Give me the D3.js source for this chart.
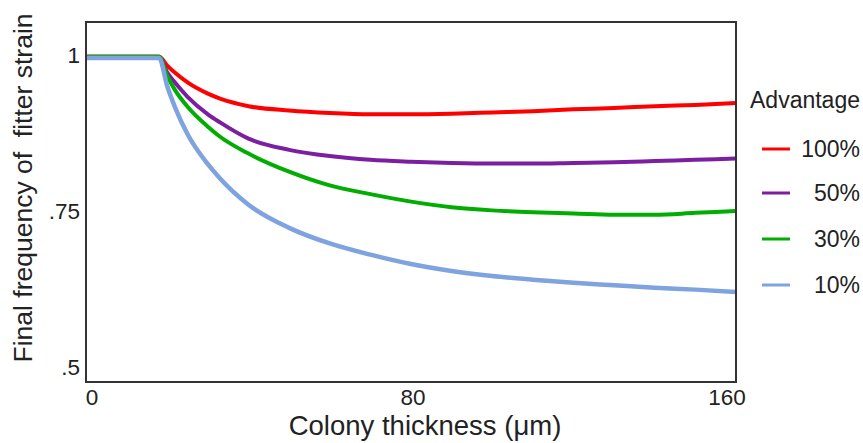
<!DOCTYPE html>
<html>
<head>
<meta charset="utf-8">
<script src="https://cdn.jsdelivr.net/npm/d3@7"></script>
<style>
  html, body { margin: 0; padding: 0; background: #fff; }
  text { font-family: "Liberation Sans", Arial, sans-serif; fill: #222; }
</style>
</head>
<body>
<svg id="chart" width="863" height="443"></svg>
<script>
// Colony thickness (µm) sample points
const thickness = [0, 18, 20, 22, 25, 30, 33, 40, 50, 60, 70, 80, 90, 100, 110, 120, 130, 140, 150, 160];

// Final frequency of the fitter strain for each advantage level
const adv100 = [0.997, 0.997, 0.983, 0.971, 0.956, 0.938, 0.930, 0.918, 0.911, 0.907, 0.905, 0.905, 0.906, 0.908, 0.910, 0.913, 0.915, 0.918, 0.920, 0.923];
const adv50  = [0.997, 0.997, 0.972, 0.955, 0.933, 0.905, 0.892, 0.866, 0.848, 0.838, 0.832, 0.829, 0.827, 0.826, 0.826, 0.827, 0.828, 0.830, 0.832, 0.834];
const adv30  = [0.997, 0.997, 0.966, 0.943, 0.917, 0.885, 0.869, 0.842, 0.813, 0.791, 0.777, 0.765, 0.756, 0.751, 0.748, 0.746, 0.744, 0.744, 0.747, 0.750];
const adv10  = [0.995, 0.995, 0.950, 0.915, 0.873, 0.825, 0.802, 0.760, 0.723, 0.698, 0.680, 0.665, 0.654, 0.646, 0.640, 0.635, 0.631, 0.627, 0.624, 0.620];

const seriesNames  = ["100%", "50%", "30%", "10%"];
const seriesColors = ["#ff0000", "#7b1fa0", "#00ad00", "#7ea3df"];
const seriesValues = [adv100, adv50, adv30, adv10];

const xTicks = [0, 80, 160];
const yTicks = [0.5, 0.75, 1];
const yTickLabels = [".5", ".75", "1"];

const svg = d3.select("#chart");
const plotLeft = 86, plotRight = 736, plotTop = 22, plotBottom = 382;

const x = d3.scaleLinear().domain([0, 160]).range([plotLeft, plotRight]);
// 1 sits at y=55 and .5 at y=367
const y = d3.scaleLinear().domain([0.5, 1]).range([367, 55]);

const line = d3.line()
  .x((d, i) => x(thickness[i]))
  .y(d => y(d))
  .curve(d3.curveMonotoneX);

// curves, blue drawn last so it sits on top of the shared plateau
seriesValues.forEach((vals, k) => {
  svg.append("path")
    .datum(vals)
    .attr("d", line)
    .attr("fill", "none")
    .attr("stroke", seriesColors[k])
    .attr("stroke-width", k === 3 ? 4.5 : 4)
    .attr("stroke-linejoin", "round");
});

// frame around the plot area
svg.append("rect")
  .attr("x", plotLeft).attr("y", plotTop)
  .attr("width", plotRight - plotLeft).attr("height", plotBottom - plotTop)
  .attr("fill", "none")
  .attr("stroke", "#333")
  .attr("stroke-width", 2);

// x tick labels
const xOffsets = { 0: 6, 80: 2, 160: -9 };
svg.selectAll(".xt").data(xTicks).enter().append("text")
  .attr("class", "xt")
  .attr("x", d => x(d) + xOffsets[d])
  .attr("y", 405)
  .attr("text-anchor", "middle")
  .attr("font-size", 22.5)
  .text(d => d);

// y tick labels
svg.selectAll(".yt").data(yTicks).enter().append("text")
  .attr("class", "yt")
  .attr("x", 80)
  .attr("y", d => y(d) + 8)
  .attr("text-anchor", "end")
  .attr("font-size", 22.5)
  .text((d, i) => yTickLabels[i]);

// axis titles
svg.append("text")
  .attr("x", 425).attr("y", 435)
  .attr("text-anchor", "middle")
  .attr("font-size", 27.5)
  .text("Colony thickness (μm)");

svg.append("text")
  .attr("transform", "translate(32,188) rotate(-90)")
  .attr("text-anchor", "middle")
  .attr("font-size", 26.5)
  .style("white-space", "pre")
  .text("Final frequency of  fitter strain");

// legend
svg.append("text")
  .attr("x", 860).attr("y", 108)
  .attr("text-anchor", "end")
  .attr("font-size", 23)
  .text("Advantage");

const legendY = [149, 193, 239, 285];
seriesNames.forEach((name, k) => {
  svg.append("line")
    .attr("x1", 762).attr("x2", 790)
    .attr("y1", legendY[k]).attr("y2", legendY[k])
    .attr("stroke", seriesColors[k])
    .attr("stroke-width", 3);
  svg.append("text")
    .attr("x", 860).attr("y", legendY[k] + 8)
    .attr("text-anchor", "end")
    .attr("font-size", 23)
    .text(name);
});
</script>
</body>
</html>
